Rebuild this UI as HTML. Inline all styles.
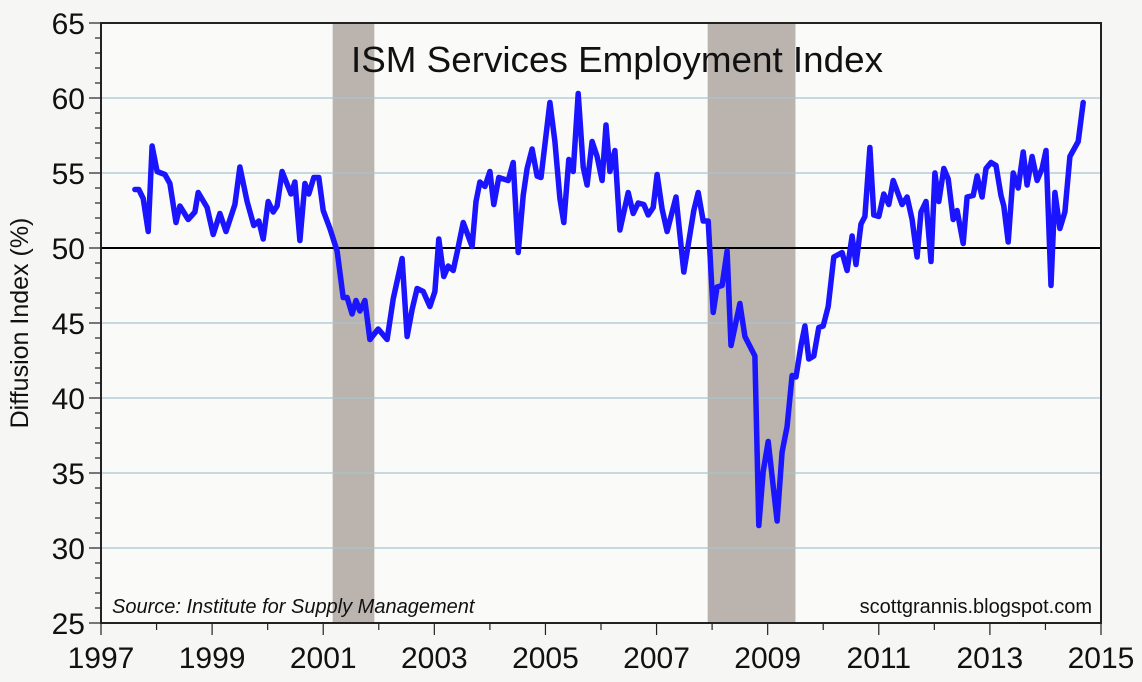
<!DOCTYPE html>
<html><head><meta charset="utf-8"><style>
html,body{margin:0;padding:0;background:#f6f6f4;}
svg{display:block;font-family:"Liberation Sans",sans-serif;}
</style></head><body>
<svg id="chart" width="1142" height="682" viewBox="0 0 1142 682" xmlns="http://www.w3.org/2000/svg">
<rect x="101" y="23" width="1000" height="600" fill="#fafaf8"/>
<g id="rec"></g><g id="grid"></g><g id="line"></g><g id="axes"></g>
<text x="617" y="72" text-anchor="middle" font-size="36" fill="#111" textLength="532" lengthAdjust="spacingAndGlyphs">ISM Services Employment Index</text>
<text transform="translate(28,323) rotate(-90)" text-anchor="middle" font-size="25" fill="#111">Diffusion Index (%)</text>
<text x="112" y="613" font-size="20" font-style="italic" fill="#111">Source: Institute for Supply Management</text>
<text x="1092" y="613" text-anchor="end" font-size="20" fill="#111">scottgrannis.blogspot.com</text>
</svg>
<script>
const dates=[1997.61,1997.68,1997.76,1997.85,1997.92,1998.01,1998.15,1998.24,1998.35,1998.42,1998.57,1998.69,1998.75,1998.91,1999.02,1999.14,1999.25,1999.41,1999.50,1999.63,1999.75,1999.84,1999.92,2000.01,2000.10,2000.17,2000.26,2000.42,2000.49,2000.58,2000.67,2000.74,2000.83,2000.92,2001.00,2001.12,2001.25,2001.36,2001.43,2001.52,2001.59,2001.66,2001.75,2001.84,2001.99,2002.15,2002.26,2002.42,2002.51,2002.60,2002.69,2002.80,2002.92,2003.01,2003.08,2003.17,2003.25,2003.34,2003.41,2003.52,2003.68,2003.75,2003.82,2003.91,2004.00,2004.07,2004.16,2004.33,2004.42,2004.51,2004.60,2004.67,2004.76,2004.85,2004.92,2005.08,2005.17,2005.26,2005.33,2005.42,2005.50,2005.59,2005.68,2005.75,2005.84,2005.93,2006.02,2006.09,2006.16,2006.25,2006.34,2006.49,2006.58,2006.67,2006.77,2006.85,2006.94,2007.01,2007.10,2007.19,2007.35,2007.49,2007.67,2007.75,2007.84,2007.93,2008.02,2008.09,2008.18,2008.27,2008.34,2008.50,2008.59,2008.77,2008.84,2008.92,2009.01,2009.17,2009.26,2009.35,2009.44,2009.51,2009.60,2009.67,2009.74,2009.83,2009.92,2010.00,2010.09,2010.19,2010.34,2010.43,2010.52,2010.59,2010.68,2010.75,2010.84,2010.91,2011.00,2011.09,2011.18,2011.26,2011.42,2011.51,2011.60,2011.69,2011.76,2011.85,2011.94,2012.01,2012.08,2012.17,2012.25,2012.34,2012.41,2012.52,2012.59,2012.70,2012.77,2012.86,2012.93,2013.02,2013.11,2013.20,2013.25,2013.33,2013.42,2013.51,2013.60,2013.67,2013.76,2013.85,2013.94,2014.01,2014.10,2014.17,2014.26,2014.35,2014.44,2014.59,2014.68,2014.86];
const values=[53.9,53.9,53.3,51.1,56.8,55.1,54.9,54.3,51.7,52.8,51.9,52.4,53.7,52.7,50.9,52.3,51.1,52.9,55.4,53.1,51.5,51.8,50.6,53.1,52.4,52.8,55.1,53.6,54.4,50.5,54.3,53.6,54.7,54.7,52.5,51.3,49.8,46.7,46.7,45.6,46.5,45.8,46.5,43.9,44.6,43.9,46.6,49.3,44.1,45.9,47.3,47.1,46.1,47.1,50.6,48.1,48.8,48.5,49.7,51.7,50.1,53.1,54.4,54.1,55.1,52.9,54.7,54.5,55.7,49.7,53.5,55.3,56.6,54.8,54.7,59.7,57.1,53.3,51.7,55.9,55.1,60.3,55.4,54.2,57.1,56.1,54.5,58.2,55.1,56.5,51.2,53.7,52.3,53.0,52.9,52.2,52.7,54.9,52.6,51.1,53.4,48.4,52.5,53.7,51.8,51.8,45.7,47.4,47.5,49.8,43.5,46.3,44.1,42.8,31.5,35.1,37.1,31.8,36.4,38.1,41.5,41.4,43.5,44.8,42.6,42.8,44.7,44.8,46.1,49.4,49.7,48.5,50.8,48.9,51.6,52.1,56.7,52.2,52.1,53.6,52.9,54.5,52.9,53.4,51.9,49.4,52.4,53.1,49.1,55.0,53.1,55.3,54.6,51.9,52.5,50.3,53.4,53.5,54.8,53.4,55.3,55.7,55.5,53.5,52.8,50.4,55.0,54.0,56.4,54.2,56.1,54.5,55.3,56.5,47.5,53.7,51.3,52.4,56.1,57.1,59.7];
const recStart=[2001.17,2007.92];
const recEnd=[2001.92,2009.5];
const yTicks=[25,30,35,40,45,50,55,60,65];
const xTicks=[1997,1999,2001,2003,2005,2007,2009,2011,2013,2015];
const NS="http://www.w3.org/2000/svg";
const X0=101,X1=1101,Y0=623,Y1=23;
const xs=d=>X0+(d-1997)/18*(X1-X0);
const ys=v=>Y0-(v-25)/40*(Y0-Y1);
function mk(tag,attrs,parent){const e=document.createElementNS(NS,tag);for(const k in attrs)e.setAttribute(k,attrs[k]);parent.appendChild(e);return e;}
const rec=document.getElementById('rec');
recStart.forEach((s,i)=>{const r=mk('rect',{x:xs(s),y:Y1,width:xs(recEnd[i])-xs(s),height:Y0-Y1,fill:'#bab3ae'},rec);

});
const grid=document.getElementById('grid');
yTicks.forEach(v=>{if(v===25||v===65||v===50)return;const l=mk('line',{x1:X0,x2:X1,y1:ys(v),y2:ys(v),stroke:'#a9c3d3','stroke-width':1.2},grid);

});
const ln=document.getElementById('line');
const ref=mk('line',{x1:X0,x2:X1,y1:ys(50),y2:ys(50),stroke:'#000','stroke-width':2},ln);


const p=mk('polyline',{points:dates.map((d,i)=>xs(d).toFixed(1)+','+ys(values[i]).toFixed(1)).join(' '),fill:'none',stroke:'#1a14ff','stroke-width':5.5,'stroke-linejoin':'round','stroke-linecap':'round'},ln);


const ax=document.getElementById('axes');
mk('rect',{x:X0,y:Y1,width:X1-X0,height:Y0-Y1,fill:'none',stroke:'#222','stroke-width':2},ax);
for(let v=25;v<=65;v++){mk('line',{x1:X0-(v%5===0?12:6),x2:X0,y1:ys(v),y2:ys(v),stroke:'#222','stroke-width':1.2},ax);}
yTicks.forEach(v=>{const t=mk('text',{x:X0-16,y:ys(v)+11,'text-anchor':'end','font-size':30,fill:'#111'},ax);t.textContent=v;

});
for(let y=1997;y<=2015;y++){mk('line',{x1:xs(y),x2:xs(y),y1:Y0,y2:Y0+(y%2===1?12:7),stroke:'#222','stroke-width':1.2},ax);}
xTicks.forEach(y=>{const t=mk('text',{x:xs(y),y:668,'text-anchor':'middle','font-size':30,fill:'#111'},ax);t.textContent=y;

});
</script>
</body></html>
